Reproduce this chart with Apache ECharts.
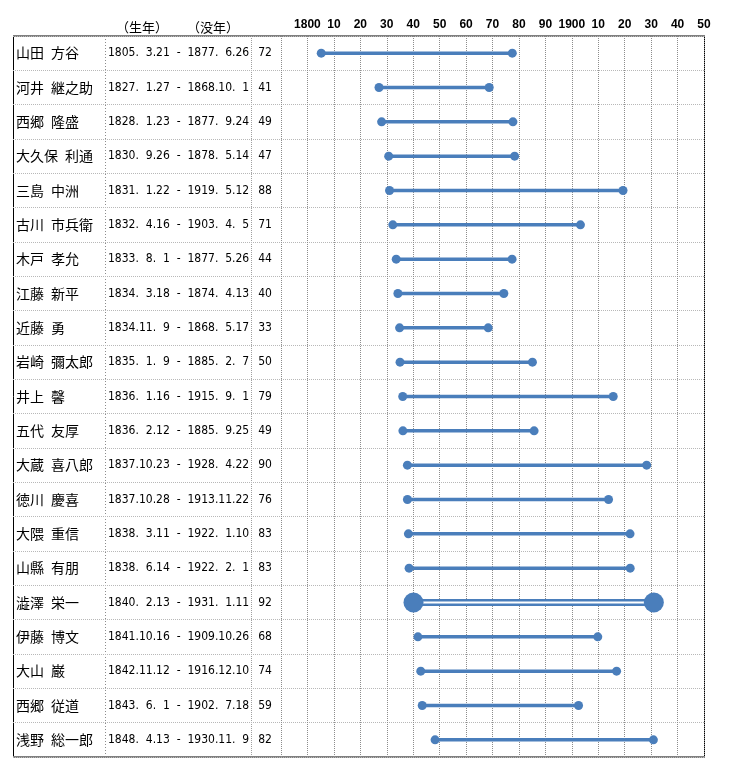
<!DOCTYPE html>
<html><head><meta charset="utf-8">
<script src="https://cdn.jsdelivr.net/npm/echarts@6/dist/echarts.min.js"></script>
<style>html,body{margin:0;padding:0;background:#fff}#c{width:733px;height:768px}</style>
</head><body><div id="c"></div>
<script>
const names = ['山田 方谷','河井 継之助','西郷 隆盛','大久保 利通','三島 中洲','古川 市兵衛','木戸 孝允','江藤 新平','近藤 勇','岩崎 彌太郎','井上 馨','五代 友厚','大蔵 喜八郎','徳川 慶喜','大隈 重信','山縣 有朋','澁澤 栄一','伊藤 博文','大山 巌','西郷 従道','浅野 総一郎'];
const births = ['1805. 3.21','1827. 1.27','1828. 1.23','1830. 9.26','1831. 1.22','1832. 4.16','1833. 8. 1','1834. 3.18','1834.11. 9','1835. 1. 9','1836. 1.16','1836. 2.12','1837.10.23','1837.10.28','1838. 3.11','1838. 6.14','1840. 2.13','1841.10.16','1842.11.12','1843. 6. 1','1848. 4.13'];
const deaths = ['1877. 6.26','1868.10. 1','1877. 9.24','1878. 5.14','1919. 5.12','1903. 4. 5','1877. 5.26','1874. 4.13','1868. 5.17','1885. 2. 7','1915. 9. 1','1885. 9.25','1928. 4.22','1913.11.22','1922. 1.10','1922. 2. 1','1931. 1.11','1909.10.26','1916.12.10','1902. 7.18','1930.11. 9'];
const ages = [72,41,49,47,88,71,44,40,33,50,79,49,90,76,83,83,92,68,74,59,82];
const highlightRow = 16;
const yearTicks = {min:1790, max:1950, interval:10};

function toYear(s){
  const p = s.split('.').map(v=>parseInt(v.trim(),10));
  return p[0] + (p[1]-1)/12 + (p[2]-1)/365;
}
const BLUE = '#4A7EBB';
const L = 13, SPLIT = 281, R = 704, T = 36, B = 757;
const nameFont = "'Noto Sans CJK JP', sans-serif";
const numFont = "'Liberation Sans Narrow','DejaVu Sans Condensed', sans-serif";

const chart = echarts.init(document.getElementById('c'), null, {renderer:'canvas'});

const series = [];
names.forEach((n,i)=>{
  const b = toYear(births[i]), d = toYear(deaths[i]);
  if (i === highlightRow) {
    series.push({type:'line', xAxisIndex:1, yAxisIndex:3, data:[[b,i],[d,i]], showSymbol:false, symbol:'none',
      lineStyle:{color:BLUE, width:7}, z:2, silent:true});
    series.push({type:'line', xAxisIndex:1, yAxisIndex:3, data:[[b,i],[d,i]], showSymbol:false, symbol:'none',
      lineStyle:{color:'#fff', width:2}, z:3, silent:true});
    series.push({type:'scatter', xAxisIndex:1, yAxisIndex:3, data:[[b,i],[d,i]], symbol:'circle', symbolSize:20,
      itemStyle:{color:BLUE, opacity:1}, z:4, silent:true});
  } else {
    series.push({type:'line', xAxisIndex:1, yAxisIndex:3, data:[[b,i],[d,i]], symbol:'circle', symbolSize:9, showSymbol:true,
      lineStyle:{color:BLUE, width:3.5}, itemStyle:{color:BLUE}, z:2, silent:true});
  }
});

const rowSplit = {show:true, lineStyle:{type:'dotted', color:'#b8b8b8', width:1}};
const noLine = {show:false};

const option = {
  animation:false,
  grid:[
    {left:L, top:T, width:SPLIT-L, height:B-T},
    {left:SPLIT, top:T, width:R-SPLIT, height:B-T}
  ],
  xAxis:[
    {gridIndex:0, type:'value', min:0, max:1, show:false},
    {gridIndex:1, type:'value', position:'top', min:yearTicks.min, max:yearTicks.max, interval:yearTicks.interval,
      axisLine:noLine, axisTick:noLine,
      axisLabel:{margin:5, fontSize:12, fontWeight:'bold', color:'#000', fontFamily:"'Liberation Sans', sans-serif",
        formatter:v=> v===1790 ? '' : (v%100===0 ? String(v) : String(v%100).padStart(2,'0'))},
      splitLine:{show:true, lineStyle:{type:'dotted', color:'#8c8c8c', width:1}}}
  ],
  yAxis:[
    {gridIndex:0, type:'category', position:'left', data:names, inverse:true, axisLine:noLine, axisTick:noLine, splitLine:rowSplit,
      axisLabel:{inside:true, margin:3, interval:0, align:'left', fontSize:14, color:'#000', fontFamily:nameFont,
        formatter:(v)=>v.replace(' ','\u2002')}},
    {gridIndex:0, type:'category', position:'left', data:names, inverse:true, axisLine:noLine, axisTick:noLine, splitLine:noLine,
      axisLabel:{inside:true, margin:95, interval:0, align:'left', fontSize:12, color:'#000', fontFamily:numFont,
        formatter:(v,i)=>(births[i]+' - '+deaths[i]).replace(/ /g,'\u2007')}},
    {gridIndex:0, type:'category', position:'left', data:names, inverse:true, axisLine:noLine, axisTick:noLine, splitLine:noLine,
      axisLabel:{inside:true, margin:252, interval:0, align:'center', fontSize:12, color:'#000', fontFamily:numFont,
        formatter:(v,i)=>String(ages[i])}},
    {gridIndex:1, type:'category', data:names, inverse:true, axisLine:noLine, axisTick:noLine, splitLine:rowSplit,
      axisLabel:{show:false}}
  ],
  graphic:[
    {type:'text', left:116, top:21, style:{text:'（生年）', fontSize:13, fontFamily:nameFont, fill:'#000'}},
    {type:'text', left:187, top:21, style:{text:'（没年）', fontSize:13, fontFamily:nameFont, fill:'#000'}},
    {type:'line', shape:{x1:105.5, y1:T, x2:105.5, y2:B}, style:{stroke:'#8c8c8c', lineWidth:1, lineDash:[1,2]}},
    {type:'line', shape:{x1:251.5, y1:T, x2:251.5, y2:B}, style:{stroke:'#a0a0a0', lineWidth:1, lineDash:[1,1]}},
    {type:'line', shape:{x1:L+0.5, y1:T, x2:L+0.5, y2:B}, style:{stroke:'#000', lineWidth:1}},
    {type:'line', shape:{x1:R+0.5, y1:T, x2:R+0.5, y2:B}, style:{stroke:'#000', lineWidth:1}},
    {type:'line', shape:{x1:L, y1:T, x2:R+1, y2:T}, style:{stroke:'#808080', lineWidth:2}},
    {type:'line', shape:{x1:L, y1:B, x2:R+1, y2:B}, style:{stroke:'#808080', lineWidth:2}}
  ],
  series:series
};
chart.setOption(option);
</script>
</body></html>
